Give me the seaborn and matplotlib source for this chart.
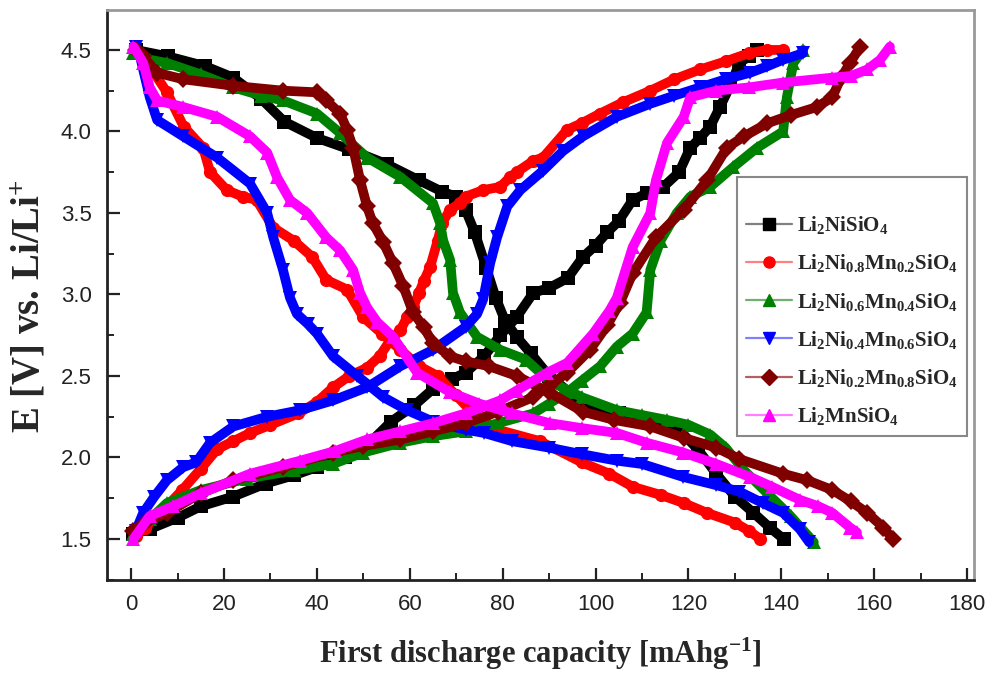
import matplotlib
matplotlib.use("Agg")
import matplotlib.pyplot as plt
from matplotlib.lines import Line2D
from matplotlib.ticker import MultipleLocator
from matplotlib import font_manager
import seaborn as sns
import numpy as np

# ---------------- data ----------------
ni_chg_x = [0.5, 4, 10, 15, 22, 29, 35, 40, 46, 51, 56, 61, 65, 69, 72, 76, 79.5, 83, 86.6, 90, 94, 97.3, 100, 102.5, 105, 108, 111, 114.6, 118, 120.4, 122.5, 124.7, 126.8, 129, 131, 133, 134.8]
ni_chg_y = [1.53, 1.56, 1.63, 1.70, 1.76, 1.84, 1.89, 1.94, 2.00, 2.08, 2.22, 2.32, 2.42, 2.48, 2.52, 2.62, 2.75, 2.86, 3.01, 3.04, 3.10, 3.23, 3.30, 3.38, 3.45, 3.58, 3.62, 3.66, 3.75, 3.90, 3.96, 4.03, 4.15, 4.28, 4.42, 4.46, 4.50]
ni_dis_x = [1, 8, 16, 22, 28, 33, 40, 47, 55, 62, 67, 70, 72, 74, 76.5, 78.5, 80.5, 83, 86, 90, 97, 105, 112, 118, 122, 126, 130, 134, 137.5, 140.5]
ni_dis_y = [4.50, 4.46, 4.40, 4.33, 4.20, 4.06, 3.96, 3.89, 3.80, 3.70, 3.63, 3.60, 3.52, 3.38, 3.16, 2.98, 2.84, 2.74, 2.64, 2.50, 2.34, 2.27, 2.22, 2.17, 2.05, 1.90, 1.76, 1.66, 1.57, 1.50]

n8_chg_x = [1, 3, 7, 11, 15, 18.5, 22, 25.6, 30, 36, 40, 43.5, 47, 50.8, 53.5, 55.8, 58, 59.4, 60.7, 62, 63, 64.4, 66, 67, 68.7, 70.8, 72, 75.8, 79.5, 81.6, 83, 86.6, 88.7, 93.9, 97, 101, 106, 111.8, 117, 122.5, 128, 133, 137, 140.4]
n8_chg_y = [1.52, 1.57, 1.68, 1.80, 1.93, 2.05, 2.10, 2.15, 2.20, 2.27, 2.34, 2.43, 2.50, 2.55, 2.62, 2.72, 2.78, 2.86, 2.92, 3.01, 3.08, 3.17, 3.33, 3.44, 3.52, 3.56, 3.60, 3.64, 3.66, 3.72, 3.75, 3.82, 3.84, 4.01, 4.05, 4.11, 4.18, 4.25, 4.32, 4.38, 4.43, 4.48, 4.50, 4.50]
n8_dis_x = [1, 4, 7.7, 11.3, 15.5, 17, 20.6, 24, 27, 30.6, 35, 39, 42, 46.5, 50, 54, 58, 62, 66, 70, 74, 79, 88, 97, 103, 108, 114, 119, 124, 130, 133, 135.5]
n8_dis_y = [4.50, 4.40, 4.24, 4.03, 3.90, 3.75, 3.64, 3.60, 3.58, 3.41, 3.33, 3.23, 3.09, 3.03, 2.86, 2.76, 2.66, 2.56, 2.50, 2.38, 2.26, 2.17, 2.10, 1.97, 1.90, 1.82, 1.77, 1.72, 1.66, 1.60, 1.55, 1.50]

n6_chg_x = [0.5, 4, 7.7, 15, 25, 35, 43.5, 50, 58, 65, 72, 79, 86.6, 90, 93.9, 97, 101, 104.6, 108, 111, 111.8, 114, 117.5, 120.4, 124.7, 129.6, 134.8, 140.4, 141.2, 142.6, 144.7]
n6_chg_y = [1.53, 1.62, 1.72, 1.80, 1.87, 1.92, 1.96, 2.03, 2.09, 2.13, 2.16, 2.21, 2.27, 2.33, 2.40, 2.47, 2.56, 2.68, 2.76, 2.89, 3.15, 3.33, 3.50, 3.60, 3.66, 3.78, 3.90, 4.00, 4.21, 4.42, 4.50]
n6_dis_x = [0.5, 4, 7.7, 15, 22, 28, 32.7, 40, 45, 50.8, 58, 65, 66.5, 67.2, 68.7, 69.3, 70.8, 72.5, 74.5, 79.5, 85, 90, 97, 104.6, 110, 115.4, 120, 124.7, 128, 132, 137, 142, 147]
n6_dis_y = [4.48, 4.44, 4.42, 4.35, 4.27, 4.22, 4.19, 4.11, 3.99, 3.84, 3.72, 3.56, 3.44, 3.33, 3.21, 3.01, 2.89, 2.82, 2.74, 2.66, 2.60, 2.47, 2.37, 2.29, 2.26, 2.23, 2.20, 2.14, 2.06, 1.92, 1.78, 1.64, 1.48]

n4_chg_x = [1, 2.6, 5, 7.7, 11.2, 14, 17, 22, 29.3, 36.4, 43.5, 50.8, 58, 65, 72, 74.5, 75.8, 77.3, 78.8, 81, 83.8, 88.7, 93, 97.3, 104.6, 111.8, 117, 122.5, 128, 133.3, 137, 140.4, 144.7]
n4_chg_y = [1.55, 1.66, 1.76, 1.86, 1.94, 1.97, 2.09, 2.19, 2.25, 2.29, 2.35, 2.43, 2.56, 2.66, 2.80, 2.88, 2.97, 3.19, 3.35, 3.54, 3.64, 3.76, 3.88, 3.97, 4.09, 4.17, 4.22, 4.27, 4.32, 4.36, 4.40, 4.44, 4.48]
n4_dis_x = [1, 2, 4, 5.6, 11.2, 18.5, 25.6, 29.3, 30.6, 32.7, 34.2, 35.7, 38, 40, 43.5, 48.7, 54.3, 59.4, 65, 72, 76, 82, 90, 97, 104.6, 110, 118.9, 126, 131, 136, 140.4, 144, 146]
n4_dis_y = [4.52, 4.45, 4.21, 4.07, 3.97, 3.84, 3.68, 3.50, 3.35, 3.15, 2.98, 2.88, 2.82, 2.76, 2.62, 2.50, 2.37, 2.29, 2.22, 2.17, 2.15, 2.10, 2.06, 2.02, 1.98, 1.96, 1.88, 1.83, 1.79, 1.72, 1.66, 1.56, 1.48]

n2_chg_x = [0.5, 3, 7.7, 15, 22, 32.7, 43.5, 50, 58, 65, 72, 79, 86.6, 90, 93.9, 98.8, 102.5, 105.3, 108, 113, 119, 124, 128.3, 132, 137, 142, 147.7, 151, 152.7, 154.8, 157]
n2_chg_y = [1.55, 1.60, 1.66, 1.78, 1.86, 1.94, 2.03, 2.07, 2.11, 2.16, 2.21, 2.28, 2.37, 2.44, 2.52, 2.66, 2.81, 2.95, 3.13, 3.35, 3.52, 3.70, 3.90, 3.97, 4.05, 4.10, 4.15, 4.21, 4.32, 4.42, 4.52]
n2_dis_x = [1, 2.6, 5.6, 11.2, 22, 32.7, 40, 42, 45, 46.5, 47.8, 49.3, 50.8, 52, 54.3, 56.4, 58.6, 60.7, 63, 65, 68.7, 72, 77, 83, 90, 97.3, 104, 111.8, 119, 126, 131, 140.4, 145.6, 151, 155, 158.5, 162, 164]
n2_dis_y = [4.50, 4.46, 4.36, 4.32, 4.28, 4.25, 4.24, 4.19, 4.11, 4.01, 3.90, 3.70, 3.54, 3.44, 3.32, 3.19, 3.05, 2.89, 2.80, 2.70, 2.62, 2.59, 2.56, 2.50, 2.40, 2.28, 2.23, 2.19, 2.12, 2.06, 1.99, 1.90, 1.86, 1.80, 1.73, 1.66, 1.57, 1.50]

mn_chg_x = [0.5, 4, 9, 15, 25.6, 36.4, 44, 50.8, 58, 65, 72, 79.5, 83, 89.6, 93.9, 99.5, 103, 104.6, 108, 111.8, 113, 115.4, 119, 120.4, 126, 133, 140.4, 151, 155, 158.5, 161.3, 163.4]
mn_chg_y = [1.50, 1.64, 1.70, 1.78, 1.90, 1.98, 2.04, 2.11, 2.16, 2.21, 2.27, 2.35, 2.41, 2.52, 2.58, 2.76, 2.90, 2.98, 3.29, 3.50, 3.70, 3.93, 4.09, 4.21, 4.25, 4.27, 4.30, 4.33, 4.34, 4.38, 4.44, 4.52]
mn_dis_x = [0.5, 2.6, 4, 5.6, 11.2, 18.5, 25.6, 29.3, 31.4, 34.2, 37.9, 42, 45, 47.8, 49.3, 50.8, 53, 56.4, 61.6, 68.7, 75, 82, 90.2, 97, 104.6, 111, 118.9, 126, 133.3, 138, 144, 148, 151, 154.8, 156.3]
mn_dis_y = [4.52, 4.42, 4.27, 4.19, 4.15, 4.09, 3.97, 3.87, 3.72, 3.58, 3.50, 3.35, 3.27, 3.15, 3.01, 2.92, 2.83, 2.74, 2.52, 2.40, 2.33, 2.27, 2.21, 2.18, 2.15, 2.09, 2.03, 1.96, 1.88, 1.82, 1.74, 1.70, 1.66, 1.57, 1.54]

labels = [r'$\mathbf{Li_2NiSiO_4}$',
          r'$\mathbf{Li_2Ni_{0.8}Mn_{0.2}SiO_4}$',
          r'$\mathbf{Li_2Ni_{0.6}Mn_{0.4}SiO_4}$',
          r'$\mathbf{Li_2Ni_{0.4}Mn_{0.6}SiO_4}$',
          r'$\mathbf{Li_2Ni_{0.2}Mn_{0.8}SiO_4}$',
          r'$\mathbf{Li_2MnSiO_4}$']
colors = ['#000000', '#FF0000', '#008000', '#0000FF', '#800000', '#FF00FF']
light = ['#808080', '#FF8080', '#70B070', '#8080FF', '#B06060', '#FF80FF']
markers = ['s', 'o', '^', 'v', 'D', '^']
series = [
    [(ni_chg_x, ni_chg_y), (ni_dis_x, ni_dis_y)],
    [(n8_chg_x, n8_chg_y), (n8_dis_x, n8_dis_y)],
    [(n6_chg_x, n6_chg_y), (n6_dis_x, n6_dis_y)],
    [(n4_chg_x, n4_chg_y), (n4_dis_x, n4_dis_y)],
    [(n2_chg_x, n2_chg_y), (n2_dis_x, n2_dis_y)],
    [(mn_chg_x, mn_chg_y), (mn_dis_x, mn_dis_y)],
]

# ---------------- style ----------------
sns.set_theme(style="ticks")
installed = {f.name for f in font_manager.fontManager.ttflist}
tick_family = 'Liberation Sans Narrow' if 'Liberation Sans Narrow' in installed else 'Liberation Sans'
plt.rcParams['font.family'] = [tick_family, 'DejaVu Sans']
plt.rcParams['mathtext.fontset'] = 'custom'
plt.rcParams['mathtext.rm'] = 'Liberation Serif'
plt.rcParams['mathtext.bf'] = 'Liberation Serif:bold'
plt.rcParams['mathtext.it'] = 'Liberation Serif:italic'

fig = plt.figure(figsize=(9.93, 6.76), dpi=100)
ax = fig.add_axes([107/993, 96/676, 867/993, 570/676])

for (curves, c, m) in zip(series, colors, markers):
    for xs, ys in curves:
        sns.lineplot(x=xs, y=ys, ax=ax, color=c, lw=7, marker=m, markersize=9.5,
                     markeredgewidth=0, sort=False, estimator=None, legend=False)

ax.set_xlim(-5.2, 181.5)
ax.set_ylim(1.248, 4.745)
ax.set_xticks(np.arange(0, 181, 20))
ax.set_yticks([1.5, 2.0, 2.5, 3.0, 3.5, 4.0, 4.5])
ax.xaxis.set_minor_locator(MultipleLocator(10))
ax.yaxis.set_minor_locator(MultipleLocator(0.25))
ax.tick_params(which='major', direction='in', length=9, width=1.6, colors='#222222',
               labelsize=16, top=False, right=False)
ax.tick_params(axis='y', which='major', pad=11)
ax.tick_params(axis='x', which='major', pad=10)
ax.tick_params(which='minor', direction='in', length=5, width=1.4, colors='#222222',
               top=False, right=False)
for lbl in ax.get_xticklabels() + ax.get_yticklabels():
    lbl.set_color('#222222')

for s in ['left', 'bottom']:
    ax.spines[s].set_color('#222222')
    ax.spines[s].set_linewidth(2)
for s in ['top', 'right']:
    ax.spines[s].set_color('#999999')
    ax.spines[s].set_linewidth(2)

ax.set_xlabel(r'First discharge capacity [mAhg$^{\mathbf{-1}}$]', fontsize=22,
              fontweight='bold', family='Liberation Serif', labelpad=15)
ax.set_ylabel(r'E [V] vs. Li/Li$^{\mathbf{+}}$', fontsize=28, fontweight='bold',
              family='Liberation Serif')
ax.yaxis.set_label_coords(-0.068, 0.48)

handles = []
for c, lc, m in zip(colors, light, markers):
    ln = Line2D([], [], color=lc, lw=1.6)
    mk = Line2D([], [], color=c, marker=m, ls='none', markersize=8)
    handles.append((ln, mk))
leg = ax.legend(handles, labels, loc='upper left', bbox_to_anchor=(0.727, 0.707),
                fontsize=15, frameon=True, fancybox=False, edgecolor='#888888',
                framealpha=1, handlelength=2.2, handletextpad=0.25, labelspacing=0.78,
                borderpad=0.42, borderaxespad=0, title=' ', title_fontsize=9)
leg.get_frame().set_linewidth(1.5)

fig.savefig('out.png', dpi=100)
